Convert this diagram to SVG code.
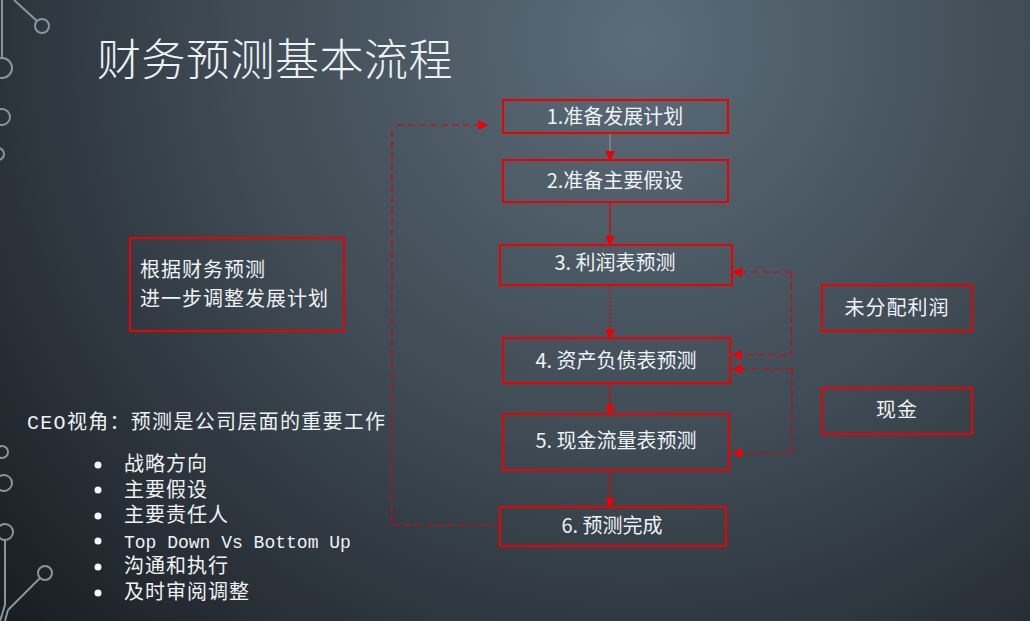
<svg xmlns="http://www.w3.org/2000/svg" width="1030" height="621" viewBox="0 0 1030 621">
<defs>
<radialGradient id="bg" cx="640" cy="40" r="900" gradientUnits="userSpaceOnUse">
<stop offset="0" stop-color="#5b6c78"/>
<stop offset="0.45" stop-color="#3f4b55"/>
<stop offset="1" stop-color="#16191e"/>
</radialGradient>
<marker id="ahs" viewBox="0 0 10 10" refX="9" refY="5" markerWidth="10" markerHeight="10" orient="auto" markerUnits="userSpaceOnUse">
<path d="M0,0 L10,5 L0,10 z" fill="#f00000"/>
</marker>
</defs>
<style>
.box{fill:none;stroke:#ee0000;stroke-width:2}
.t{font-family:"Noto Sans CJK SC","Noto Sans",sans-serif;fill:#eef2f4;font-size:20px}
.m{font-family:"Liberation Mono","Noto Sans CJK SC",monospace;fill:#eef2f4;font-size:20px}
.deco{fill:none;stroke:#8896a0;stroke-width:2}
.c{fill:none;stroke:#e00000;stroke-width:1.2}
.d{fill:none;stroke:#e00000;stroke-width:1.2;stroke-dasharray:7 4}
</style>
<rect width="1030" height="621" fill="url(#bg)"/>
<g id="decoration">
<line class="deco" x1="2" y1="0" x2="2" y2="58"/>
<circle class="deco" cx="2" cy="68" r="10"/>
<line class="deco" x1="14" y1="0" x2="37" y2="21"/>
<circle class="deco" cx="42" cy="26" r="7"/>
<circle class="deco" cx="2" cy="117" r="8"/>
<circle class="deco" cx="-2" cy="154" r="6"/>
<circle class="deco" cx="2" cy="452" r="6"/>
<circle class="deco" cx="4" cy="483" r="8"/>
<circle class="deco" cx="5" cy="532" r="8"/>
<line class="deco" x1="5" y1="540" x2="5" y2="605"/>
<line class="deco" x1="5" y1="605" x2="0" y2="621"/>
<circle class="deco" cx="45" cy="573" r="7"/>
<line class="deco" x1="40" y1="578" x2="8" y2="610"/>
<line class="deco" x1="8" y1="610" x2="5" y2="621"/>
</g>
<text class="t" x="97" y="76" style="font-size:44px;font-weight:300;letter-spacing:0.5px">财务预测基本流程</text>
<g id="connectors">
<line x1="610" y1="133" x2="610" y2="160" stroke="#9a9a9a" stroke-width="1" marker-end="url(#ahs)"/>
<line class="c" x1="610" y1="202" x2="610" y2="245" marker-end="url(#ahs)"/>
<line class="c" x1="610" y1="285" x2="610" y2="338" stroke-dasharray="2 2" marker-end="url(#ahs)"/>
<line class="c" x1="610" y1="383" x2="610" y2="414" marker-end="url(#ahs)"/>
<line class="c" x1="610" y1="470" x2="610" y2="507" stroke-width="1.6" marker-end="url(#ahs)"/>
<polyline class="d" points="499,525 392,525 392,125"/>
<line class="d" x1="397" y1="125" x2="487" y2="125" stroke-width="1.6" marker-end="url(#ahs)"/>
<polyline class="d" points="791,272 791,355 733,355" marker-end="url(#ahs)"/>
<line class="d" x1="791" y1="272" x2="733" y2="272" marker-end="url(#ahs)"/>
<polyline class="d" points="792,369 792,453 733,453" marker-end="url(#ahs)"/>
<line class="d" x1="792" y1="369" x2="733" y2="369" marker-end="url(#ahs)"/>
</g>
<g id="n1"><rect class="box" x="503" y="100" width="225" height="33"/><text class="t" x="615" y="124" text-anchor="middle">1.准备发展计划</text></g>
<g id="n2"><rect class="box" x="503" y="160" width="225" height="42"/><text class="t" x="615" y="188" text-anchor="middle">2.准备主要假设</text></g>
<g id="n3"><rect class="box" x="500" y="245" width="232" height="40"/><text class="t" x="615" y="270" text-anchor="middle">3. 利润表预测</text></g>
<g id="n4"><rect class="box" x="503" y="338" width="227" height="45"/><text class="t" x="616" y="368" text-anchor="middle">4. 资产负债表预测</text></g>
<g id="n5"><rect class="box" x="503" y="414" width="226" height="56"/><text class="t" x="616" y="448" text-anchor="middle">5. 现金流量表预测</text></g>
<g id="n6"><rect class="box" x="500" y="507" width="226" height="39"/><text class="t" x="612" y="533" text-anchor="middle">6. 预测完成</text></g>
<g id="adjust"><rect class="box" x="130" y="238" width="214" height="93"/>
<text class="t" x="140" y="277" style="letter-spacing:1px">根据财务预测</text>
<text class="t" x="140" y="306" style="letter-spacing:1px">进一步调整发展计划</text></g>
<g id="profit"><rect class="box" x="822" y="285" width="150" height="46"/><text class="t" x="897" y="315" text-anchor="middle" style="letter-spacing:1px">未分配利润</text></g>
<g id="cash"><rect class="box" x="822" y="388" width="150" height="46"/><text class="t" x="897" y="417" text-anchor="middle" style="letter-spacing:1px">现金</text></g>
<g id="ceo">
<text class="m" x="27" y="429" style="letter-spacing:1.3px">CEO视角：预测是公司层面的重要工作</text>
<g fill="#f4f6f8"><circle cx="98" cy="465" r="3.5"/><circle cx="98" cy="490" r="3.5"/><circle cx="98" cy="516" r="3.5"/><circle cx="98" cy="541" r="3.5"/><circle cx="98" cy="567" r="3.5"/><circle cx="98" cy="593" r="3.5"/></g>
<text class="m" x="124" y="471" style="letter-spacing:1px">战略方向</text>
<text class="m" x="124" y="497" style="letter-spacing:1px">主要假设</text>
<text class="m" x="124" y="522" style="letter-spacing:1px">主要责任人</text>
<text class="m" x="124" y="548" style="font-size:18px">Top Down Vs Bottom Up</text>
<text class="m" x="124" y="573" style="letter-spacing:1px">沟通和执行</text>
<text class="m" x="124" y="599" style="letter-spacing:1px">及时审阅调整</text>
</g>
</svg>
